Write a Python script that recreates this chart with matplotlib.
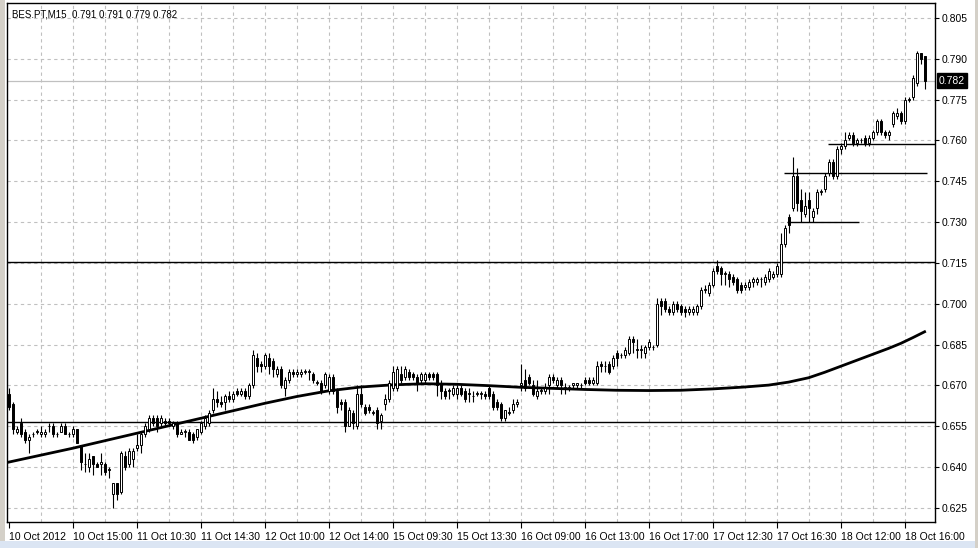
import numpy as np
import matplotlib
matplotlib.use('Agg')
import matplotlib.pyplot as plt
import matplotlib.transforms as mtransforms
from matplotlib.patches import Rectangle

plt.rcParams['font.family'] = ['Liberation Sans', 'DejaVu Sans']

# OHLC data, BES.PT M15, bars 0..229
opens = [
    0.667, 0.663, 0.653, 0.656, 0.653, 0.650, 0.652, 0.653, 0.652, 0.652,
    0.655, 0.655, 0.652, 0.653, 0.655, 0.652, 0.652, 0.654, 0.648, 0.641,
    0.640, 0.644, 0.641, 0.641, 0.641, 0.639, 0.630, 0.634, 0.631, 0.644,
    0.641, 0.643, 0.647, 0.648, 0.652, 0.654, 0.658, 0.658, 0.656, 0.657,
    0.657, 0.655, 0.656, 0.652, 0.653, 0.653, 0.652, 0.651, 0.653, 0.655,
    0.656, 0.661, 0.665, 0.664, 0.664, 0.666, 0.665, 0.668, 0.667, 0.668,
    0.666, 0.670, 0.680, 0.678, 0.677, 0.680, 0.679, 0.674, 0.676, 0.669,
    0.672, 0.675, 0.674, 0.674, 0.675, 0.675, 0.674, 0.671, 0.671, 0.670,
    0.668, 0.673, 0.668, 0.664, 0.664, 0.655, 0.660, 0.655, 0.667, 0.662,
    0.662, 0.660, 0.661, 0.657, 0.663, 0.665, 0.669, 0.669, 0.674, 0.673,
    0.675, 0.674, 0.673, 0.672, 0.672, 0.674, 0.674, 0.674, 0.671, 0.668,
    0.668, 0.667, 0.667, 0.669, 0.668, 0.667, 0.666, 0.667, 0.667, 0.667,
    0.669, 0.667, 0.664, 0.663, 0.658, 0.660, 0.661, 0.663, 0.670, 0.672,
    0.673, 0.670, 0.666, 0.668, 0.668, 0.670, 0.673, 0.670, 0.672, 0.669,
    0.669, 0.670, 0.670, 0.670, 0.672, 0.672, 0.671, 0.671, 0.678, 0.677,
    0.678, 0.677, 0.682, 0.681, 0.681, 0.682, 0.687, 0.683, 0.683, 0.682,
    0.684, 0.684, 0.685, 0.701, 0.701, 0.698, 0.697, 0.700, 0.699, 0.698,
    0.697, 0.697, 0.697, 0.699, 0.705, 0.704, 0.707, 0.714, 0.713, 0.711,
    0.711, 0.710, 0.709, 0.707, 0.706, 0.706, 0.708, 0.708, 0.709, 0.708,
    0.709, 0.710, 0.711, 0.711, 0.722, 0.732, 0.735, 0.747, 0.738, 0.733,
    0.738, 0.732, 0.735, 0.741, 0.742, 0.748, 0.752, 0.747, 0.757, 0.758,
    0.761, 0.762, 0.759, 0.760, 0.761, 0.759, 0.761, 0.763, 0.767, 0.763,
    0.762, 0.766, 0.769, 0.770, 0.767, 0.775, 0.776, 0.781, 0.792, 0.791,
]
highs = [
    0.669, 0.664, 0.655, 0.658, 0.654, 0.652, 0.653, 0.654, 0.655, 0.654,
    0.656, 0.656, 0.653, 0.656, 0.656, 0.653, 0.655, 0.654, 0.648, 0.645,
    0.645, 0.644, 0.642, 0.645, 0.642, 0.640, 0.634, 0.634, 0.646, 0.646,
    0.647, 0.647, 0.652, 0.653, 0.656, 0.659, 0.659, 0.659, 0.659, 0.658,
    0.658, 0.657, 0.657, 0.654, 0.654, 0.654, 0.653, 0.654, 0.657, 0.659,
    0.661, 0.669, 0.668, 0.666, 0.667, 0.668, 0.668, 0.669, 0.669, 0.669,
    0.671, 0.683, 0.682, 0.679, 0.682, 0.682, 0.680, 0.677, 0.677, 0.673,
    0.676, 0.676, 0.676, 0.676, 0.676, 0.676, 0.675, 0.672, 0.672, 0.675,
    0.674, 0.674, 0.669, 0.665, 0.665, 0.662, 0.661, 0.670, 0.670, 0.663,
    0.663, 0.661, 0.662, 0.660, 0.667, 0.672, 0.677, 0.677, 0.677, 0.677,
    0.676, 0.675, 0.674, 0.675, 0.675, 0.675, 0.675, 0.675, 0.672, 0.669,
    0.669, 0.670, 0.670, 0.670, 0.669, 0.669, 0.668, 0.668, 0.668, 0.668,
    0.670, 0.668, 0.665, 0.664, 0.661, 0.662, 0.665, 0.665, 0.678, 0.676,
    0.674, 0.672, 0.672, 0.669, 0.671, 0.674, 0.674, 0.673, 0.673, 0.671,
    0.670, 0.671, 0.671, 0.671, 0.673, 0.673, 0.673, 0.679, 0.679, 0.679,
    0.679, 0.681, 0.683, 0.682, 0.684, 0.688, 0.688, 0.687, 0.685, 0.685,
    0.687, 0.685, 0.702, 0.702, 0.702, 0.699, 0.701, 0.701, 0.700, 0.699,
    0.699, 0.699, 0.700, 0.706, 0.707, 0.708, 0.713, 0.716, 0.714, 0.712,
    0.712, 0.711, 0.710, 0.708, 0.708, 0.709, 0.710, 0.710, 0.710, 0.711,
    0.713, 0.712, 0.715, 0.726, 0.729, 0.733, 0.754, 0.750, 0.742, 0.741,
    0.741, 0.735, 0.742, 0.742, 0.748, 0.753, 0.753, 0.758, 0.759, 0.763,
    0.763, 0.763, 0.761, 0.761, 0.762, 0.762, 0.764, 0.768, 0.768, 0.764,
    0.764, 0.771, 0.772, 0.771, 0.776, 0.776, 0.784, 0.793, 0.792, 0.791,
]
lows = [
    0.661, 0.652, 0.652, 0.651, 0.649, 0.645, 0.651, 0.652, 0.651, 0.651,
    0.653, 0.651, 0.651, 0.653, 0.652, 0.651, 0.651, 0.649, 0.639, 0.638,
    0.638, 0.637, 0.640, 0.637, 0.637, 0.636, 0.625, 0.628, 0.630, 0.639,
    0.640, 0.640, 0.646, 0.645, 0.651, 0.653, 0.655, 0.653, 0.655, 0.655,
    0.655, 0.654, 0.651, 0.652, 0.651, 0.650, 0.649, 0.650, 0.652, 0.654,
    0.655, 0.660, 0.662, 0.662, 0.661, 0.664, 0.664, 0.666, 0.666, 0.665,
    0.665, 0.669, 0.675, 0.675, 0.676, 0.674, 0.673, 0.673, 0.669, 0.666,
    0.671, 0.673, 0.673, 0.673, 0.674, 0.672, 0.671, 0.670, 0.667, 0.669,
    0.667, 0.667, 0.660, 0.661, 0.653, 0.655, 0.654, 0.654, 0.662, 0.659,
    0.660, 0.659, 0.654, 0.654, 0.661, 0.664, 0.668, 0.668, 0.671, 0.672,
    0.672, 0.672, 0.668, 0.671, 0.671, 0.672, 0.672, 0.666, 0.665, 0.665,
    0.665, 0.666, 0.665, 0.666, 0.664, 0.664, 0.664, 0.666, 0.665, 0.665,
    0.665, 0.661, 0.661, 0.657, 0.657, 0.659, 0.660, 0.662, 0.668, 0.668,
    0.670, 0.666, 0.665, 0.667, 0.667, 0.667, 0.671, 0.669, 0.667, 0.667,
    0.668, 0.669, 0.669, 0.669, 0.670, 0.670, 0.670, 0.670, 0.675, 0.675,
    0.674, 0.676, 0.677, 0.680, 0.680, 0.681, 0.682, 0.680, 0.680, 0.680,
    0.683, 0.683, 0.684, 0.696, 0.697, 0.696, 0.696, 0.697, 0.696, 0.695,
    0.696, 0.696, 0.696, 0.698, 0.704, 0.703, 0.706, 0.711, 0.707, 0.707,
    0.706, 0.707, 0.704, 0.704, 0.705, 0.705, 0.706, 0.707, 0.706, 0.707,
    0.708, 0.709, 0.710, 0.710, 0.721, 0.726, 0.734, 0.734, 0.730, 0.732,
    0.730, 0.730, 0.733, 0.740, 0.741, 0.747, 0.746, 0.746, 0.755, 0.757,
    0.760, 0.758, 0.758, 0.759, 0.758, 0.758, 0.760, 0.762, 0.762, 0.761,
    0.760, 0.765, 0.768, 0.766, 0.766, 0.774, 0.775, 0.780, 0.788, 0.779,
]
closes = [
    0.662, 0.654, 0.654, 0.652, 0.650, 0.651, 0.652, 0.653, 0.653, 0.653,
    0.655, 0.652, 0.652, 0.655, 0.652, 0.652, 0.654, 0.649, 0.642, 0.641,
    0.643, 0.641, 0.640, 0.642, 0.638, 0.639, 0.634, 0.630, 0.645, 0.640,
    0.646, 0.646, 0.648, 0.652, 0.655, 0.658, 0.656, 0.655, 0.658, 0.656,
    0.656, 0.656, 0.652, 0.653, 0.653, 0.650, 0.650, 0.654, 0.656, 0.658,
    0.660, 0.665, 0.664, 0.663, 0.666, 0.665, 0.667, 0.667, 0.668, 0.666,
    0.670, 0.681, 0.677, 0.677, 0.681, 0.677, 0.676, 0.676, 0.670, 0.672,
    0.675, 0.674, 0.675, 0.675, 0.675, 0.675, 0.672, 0.671, 0.668, 0.674,
    0.673, 0.668, 0.662, 0.663, 0.655, 0.661, 0.656, 0.667, 0.663, 0.660,
    0.661, 0.660, 0.656, 0.659, 0.665, 0.671, 0.675, 0.676, 0.672, 0.676,
    0.673, 0.673, 0.671, 0.674, 0.674, 0.673, 0.673, 0.670, 0.668, 0.666,
    0.668, 0.669, 0.669, 0.667, 0.665, 0.667, 0.666, 0.667, 0.667, 0.666,
    0.666, 0.662, 0.662, 0.658, 0.661, 0.660, 0.663, 0.664, 0.671, 0.669,
    0.671, 0.667, 0.668, 0.668, 0.669, 0.673, 0.672, 0.672, 0.670, 0.669,
    0.669, 0.671, 0.671, 0.670, 0.671, 0.671, 0.672, 0.677, 0.677, 0.677,
    0.675, 0.680, 0.680, 0.681, 0.683, 0.687, 0.686, 0.683, 0.683, 0.684,
    0.686, 0.684, 0.700, 0.699, 0.698, 0.697, 0.700, 0.698, 0.697, 0.697,
    0.698, 0.698, 0.699, 0.705, 0.705, 0.707, 0.712, 0.712, 0.711, 0.711,
    0.709, 0.708, 0.705, 0.705, 0.707, 0.708, 0.709, 0.709, 0.709, 0.710,
    0.712, 0.711, 0.714, 0.722, 0.728, 0.729, 0.747, 0.737, 0.734, 0.736,
    0.735, 0.734, 0.741, 0.741, 0.747, 0.752, 0.747, 0.757, 0.758, 0.760,
    0.762, 0.759, 0.760, 0.760, 0.759, 0.761, 0.763, 0.767, 0.763, 0.762,
    0.763, 0.770, 0.770, 0.767, 0.775, 0.775, 0.783, 0.792, 0.790, 0.782,
]

# moving average (bar index, value)
ma_bars = [0, 16, 32, 48, 64, 72, 80, 88, 96, 104, 112, 120, 128, 136, 144,
           152, 160, 168, 176, 184, 190, 195, 200, 204, 208, 212, 216, 220,
           223, 226, 229]
ma_vals = [0.6418, 0.6469, 0.6524, 0.6579, 0.6634, 0.6659, 0.6680, 0.6694,
           0.6702, 0.6706, 0.6704, 0.6699, 0.6693, 0.6689, 0.6685, 0.6682,
           0.6681, 0.6682, 0.6687, 0.6694, 0.6701, 0.6712, 0.6728, 0.6748,
           0.6770, 0.6792, 0.6814, 0.6836, 0.6854, 0.6875, 0.6897]

# horizontal levels
full_levels = [0.7155, 0.6565]
short_levels = [0.730, 0.748, 0.7587]
short_starts = [194.5, 193.8, 204.8]
short_ends = [212.6, 229.6, 232.0]
last_price = 0.782

tick_labels = ['10 Oct 2012', '10 Oct 15:00', '11 Oct 10:30', '11 Oct 14:30',
               '12 Oct 10:00', '12 Oct 14:00', '15 Oct 09:30', '15 Oct 13:30',
               '16 Oct 09:00', '16 Oct 13:00', '16 Oct 17:00', '17 Oct 12:30',
               '17 Oct 16:30', '18 Oct 12:00', '18 Oct 16:00']
price_ticks = [0.625, 0.640, 0.655, 0.670, 0.685, 0.700, 0.715, 0.730,
               0.745, 0.760, 0.775, 0.790, 0.805]

o = np.array(opens)
h = np.array(highs)
l = np.array(lows)
c = np.array(closes)
idx = np.arange(len(o))

W, H = 979, 548
fig = plt.figure(figsize=(W / 100, H / 100), dpi=100)
fig.patch.set_facecolor('white')

# window chrome
fig.patches.append(Rectangle((0, 0), 5 / W, 1, transform=fig.transFigure,
                             facecolor='#d4d0c8', edgecolor='none'))
fig.patches.append(Rectangle((0, 0), 1, 7 / H, transform=fig.transFigure,
                             facecolor='#dbe5f3', edgecolor='none'))
fig.patches.append(Rectangle((975 / W, 0), 4 / W, 1, transform=fig.transFigure,
                             facecolor='#d4d0c8', edgecolor='none'))

ax = fig.add_axes([7 / W, 1 - 522 / H, (935 - 7) / W, (522 - 3) / H])
ax.set_xlim(-0.425, 231.6)
ax.set_ylim(0.6198, 0.8105)

grid_kw = dict(color='#c0c0c0', linestyle=(0, (3, 3)), linewidth=0.8, zorder=0)
for gx in range(8, 232, 8):
    ax.axvline(gx, **grid_kw)
for gy in price_ticks:
    ax.axhline(gy, **grid_kw)

# levels
ax.axhline(last_price, color='#c0c0c0', linewidth=0.9, zorder=1)
for lv in full_levels:
    ax.axhline(lv, color='black', linewidth=1.0, zorder=2)
ax.hlines(short_levels, short_starts, short_ends, color='black', linewidth=1.0, zorder=2)

# moving average
ax.plot(ma_bars, ma_vals, color='black', linewidth=2.0, zorder=3,
        solid_joinstyle='round')

# candles
ax.vlines(idx, l, h, color='black', linewidth=0.8, zorder=4)
bull = c >= o
body = np.maximum(np.abs(c - o), 0.00025)
ax.bar(idx, body, bottom=np.minimum(o, c), width=0.55,
       color=np.where(bull, 'white', 'black'), edgecolor='black',
       linewidth=0.7, zorder=5)

# axes styling
for sp in ax.spines.values():
    sp.set_color('black')
    sp.set_linewidth(1.0)
ax.yaxis.tick_right()
ax.set_yticks(price_ticks)
ax.set_yticklabels([f'{p:.3f}' for p in price_ticks])
ax.tick_params(axis='y', direction='out', length=3, width=0.8, pad=2,
               labelsize=7.5, colors='black')
ax.set_xticks(np.arange(0, 16 * len(tick_labels), 16))
ax.set_xticklabels(tick_labels)
ax.tick_params(axis='x', direction='out', length=4, width=0.8, pad=3,
               labelsize=7.5, colors='black')
for lab in ax.get_xticklabels():
    lab.set_ha('left')

# last price tag
trans = mtransforms.blended_transform_factory(ax.transAxes, ax.transData)
ax.text(1.004, last_price, f'{last_price:.3f}', transform=trans, ha='left',
        va='center', fontsize=7.5, color='white', clip_on=False,
        bbox=dict(boxstyle='square,pad=0.2', facecolor='black', edgecolor='black'))

ax.text(0.005, 0.988, 'BES.PT,M15  0.791 0.791 0.779 0.782',
        transform=ax.transAxes, ha='left', va='top', fontsize=7, color='black')

fig.savefig('out.png', dpi=100)
